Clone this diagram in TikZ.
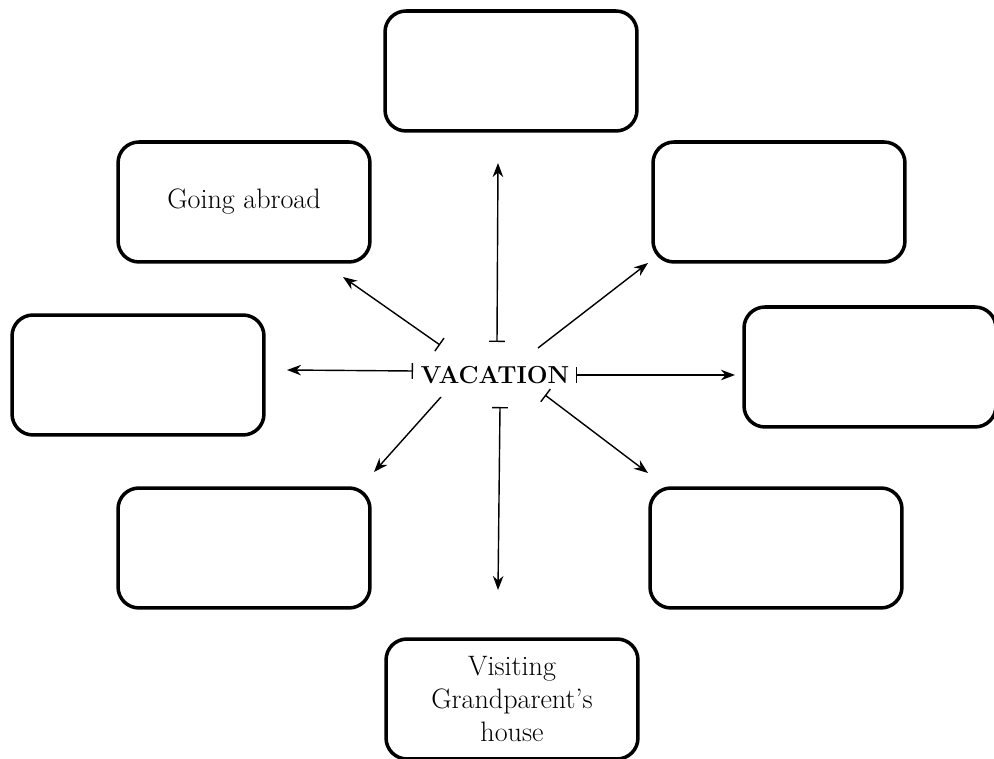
\documentclass[tikz,border=0pt]{standalone}
\usepackage{tikz}
\usetikzlibrary{arrows.meta}

\tikzset{
  topic/.style={draw, line width=2pt, rounded corners=0.42cm,
    minimum width=5.04cm, minimum height=2.4cm, align=center,
    font=\fontsize{16}{18.8}\selectfont},
  spoke/.style={line width=0.8pt, -{Stealth[length=8pt,width=6pt]}},
  barspoke/.style={spoke, {Bar[width=9pt]}-{Stealth[length=8pt,width=6pt]}}
}

\begin{document}
\begin{tikzpicture}[x=0.02cm,y=-0.02cm]
  \useasboundingbox (0,0) rectangle (994,759);

  \node (vac) at (495,375) {\fontsize{14}{16}\selectfont\bfseries VACATION};

  \node[topic] (top)   at (511,71)  {};
  \node[topic] (abroad) at (244,202) {Going abroad};
  \node[topic] (tr)    at (779,202) {};
  \node[topic] (left)  at (138,375) {};
  \node[topic] (right) at (870,367) {};
  \node[topic] (bl)    at (244,548) {};
  \node[topic] (br)    at (776,548) {};
  \node[topic] (grand) at (512,699) {Visiting\\Grandparent's\\house};

  % spoke ends
  \coordinate (s-top)   at (497,342);  \coordinate (e-top)   at (498,163);
  \coordinate (s-ul)    at (440,345);  \coordinate (e-ul)    at (343,277);
  \coordinate (s-ur)    at (538,348);  \coordinate (e-ur)    at (648,263);
  \coordinate (s-left)  at (413,371);  \coordinate (e-left)  at (287,370);
  \coordinate (s-right) at (576,375);  \coordinate (e-right) at (735,375);
  \coordinate (s-lr)    at (545,395);  \coordinate (e-lr)    at (648,473);
  \coordinate (s-down)  at (500,407);  \coordinate (e-down)  at (498,590);
  \coordinate (s-ll)    at (441,397);  \coordinate (e-ll)    at (374,472);

  \draw[barspoke] (s-top) -- (e-top);
  \draw[barspoke] (s-ul) -- (e-ul);
  \draw[spoke] (s-ur) -- (e-ur);
  \draw[barspoke] (s-left) -- (e-left);
  \draw[barspoke] (s-right) -- (e-right);
  \draw[barspoke] (s-lr) -- (e-lr);
  \draw[barspoke] (s-down) -- (e-down);
  \draw[spoke] (s-ll) -- (e-ll);
\end{tikzpicture}
\end{document}
